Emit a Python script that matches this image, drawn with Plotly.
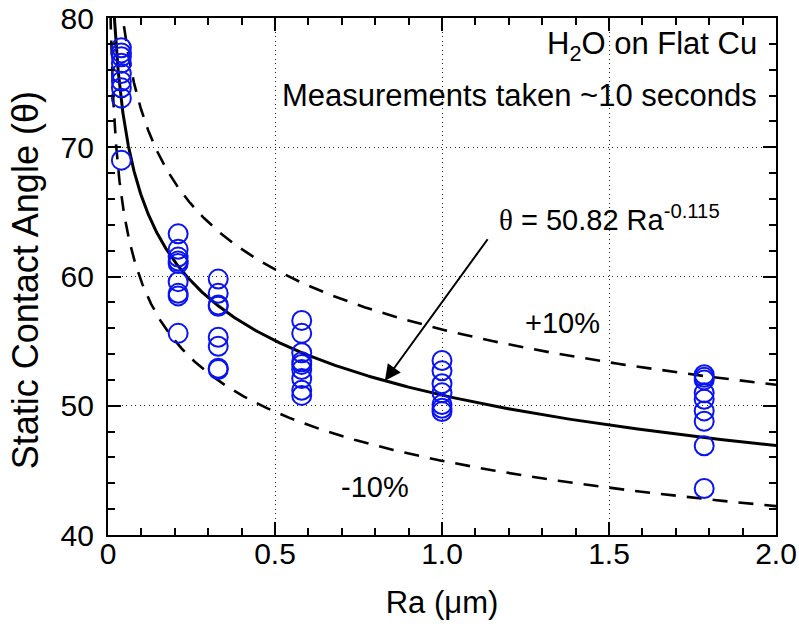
import numpy as np
import plotly.graph_objects as go

# Surface roughness Ra (um) for each measured sample, with its static contact angles
ra_03 = [0.04] * 9
theta_03 = [77.7, 77.3, 77.0, 75.7, 75.1, 74.6, 73.8, 69.0, 76.5]
ra_21 = [0.21] * 9
theta_21 = [63.3, 62.1, 61.5, 61.2, 61.0, 59.6, 58.7, 58.5, 55.6]
ra_33 = [0.33] * 8
theta_33 = [59.8, 58.7, 57.8, 57.7, 55.3, 54.6, 52.9, 52.8]
ra_58 = [0.58] * 9
theta_58 = [56.6, 55.6, 54.1, 53.4, 53.2, 52.8, 52.1, 51.2, 50.8]
ra_100 = [1.0] * 7
theta_100 = [53.5, 52.7, 51.7, 51.0, 50.1, 49.8, 49.55]
ra_178 = [1.785] * 9
theta_178 = [52.4, 52.2, 52.0, 51.0, 50.5, 49.6, 48.8, 46.9, 43.6]

ra = ra_03 + ra_21 + ra_33 + ra_58 + ra_100 + ra_178
theta = theta_03 + theta_21 + theta_33 + theta_58 + theta_100 + theta_178

# Power-law fit theta = A * Ra^B and a +/-10% band
fit_a = 50.82
fit_b = -0.115
band = 0.10

x_ticks = [0, 0.5, 1.0, 1.5, 2.0]
x_ticktext = ["0", "0.5", "1.0", "1.5", "2.0"]
y_ticks = [40, 50, 60, 70, 80]

FONT = "Arial, Liberation Sans, sans-serif"

x_fit = np.geomspace(0.004, 2.0, 600)
y_fit = fit_a * x_fit ** fit_b

fig = go.Figure()

dash_style = "15px,11px"
fig.add_trace(go.Scatter(x=x_fit, y=y_fit * (1 + band), mode="lines",
                         line=dict(color="black", width=2.6, dash=dash_style),
                         showlegend=False, hoverinfo="skip"))
fig.add_trace(go.Scatter(x=x_fit, y=y_fit * (1 - band), mode="lines",
                         line=dict(color="black", width=2.6, dash=dash_style),
                         showlegend=False, hoverinfo="skip"))
fig.add_trace(go.Scatter(x=x_fit, y=y_fit, mode="lines",
                         line=dict(color="black", width=3),
                         showlegend=False, hoverinfo="skip"))
fig.add_trace(go.Scatter(x=ra, y=theta, mode="markers",
                         marker=dict(symbol="circle-open", size=19,
                                     color="#0a14f0", line=dict(width=2)),
                         showlegend=False, cliponaxis=False))

axis_common = dict(
    showline=True, linecolor="black", linewidth=2.2, mirror="ticks",
    ticks="inside", ticklen=13, tickwidth=1.8, tickcolor="black",
    showgrid=True, gridcolor="#222222", gridwidth=1.3, griddash="1px,3.5px",
    zeroline=False, automargin=False,
    tickfont=dict(family=FONT, size=30, color="black"),
)

fig.update_xaxes(
    range=[0, 2.0], tickvals=x_ticks, ticktext=x_ticktext,
    minor=dict(dtick=0.1, ticks="inside", ticklen=7, tickwidth=1.5,
               tickcolor="black", showgrid=False),
    title=dict(text="Ra (\u03bcm)", font=dict(family=FONT, size=31, color="black"),
               standoff=22),
    ticklabelstandoff=-9,
    **axis_common,
)
fig.update_yaxes(
    range=[40, 80], tickvals=y_ticks,
    minor=dict(dtick=2, ticks="inside", ticklen=7, tickwidth=1.5,
               tickcolor="black", showgrid=False),
    ticklabelstandoff=6,
    **axis_common,
)

# Vertical axis title, placed left of the tick labels
fig.add_annotation(x=-0.124, y=0.493, xref="paper", yref="paper",
                   xanchor="center", yanchor="middle", textangle=-90,
                   text="Static Contact Angle (\u03b8)", showarrow=False,
                   font=dict(family=FONT, size=36, color="black"))

fig.add_annotation(x=0.829, y=fit_a * 0.829 ** fit_b, xref="x", yref="y",
                   ax=1.14, ay=63.0, axref="x", ayref="y",
                   text="", showarrow=True, arrowhead=2, arrowsize=1.6,
                   arrowwidth=2, arrowcolor="black")
fig.add_annotation(x=1.165, y=64.5, xref="x", yref="y", xanchor="left", yanchor="middle",
                   text="<span style=\"font-family:Liberation Serif, serif\">\u03b8</span>"
                        " = 50.82 Ra<sup>-0.115</sup>",
                   showarrow=False, font=dict(family=FONT, size=29, color="black"))
fig.add_annotation(x=1.362, y=56.4, xref="x", yref="y", text="+10%",
                   showarrow=False, font=dict(family=FONT, size=29, color="black"))
fig.add_annotation(x=0.80, y=43.7, xref="x", yref="y", text="-10%",
                   showarrow=False, font=dict(family=FONT, size=29, color="black"))
fig.add_annotation(x=0.975, y=0.945, xref="paper", yref="paper", xanchor="right",
                   yanchor="middle", text="H<sub>2</sub>O on Flat Cu",
                   showarrow=False, font=dict(family=FONT, size=31, color="black"))
fig.add_annotation(x=0.975, y=0.85, xref="paper", yref="paper", xanchor="right",
                   yanchor="middle", text="Measurements taken ~10 seconds",
                   showarrow=False, font=dict(family=FONT, size=31, color="black"))

fig.update_layout(
    width=799, height=628,
    margin=dict(l=108, r=23, t=18, b=93),
    paper_bgcolor="white", plot_bgcolor="white",
    font=dict(family=FONT, color="black"),
)

fig.write_html("out.html")
